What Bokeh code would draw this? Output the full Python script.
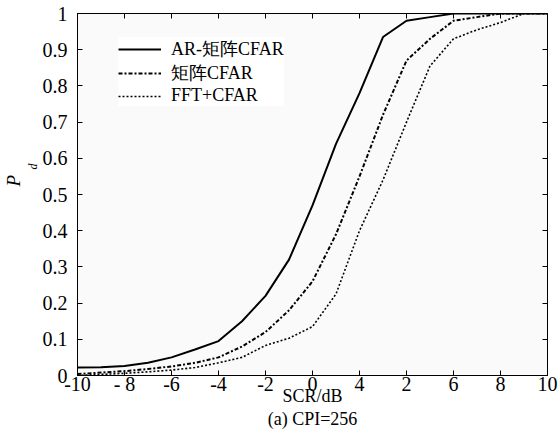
from bokeh.plotting import figure
from bokeh.models import LinearAxis, FixedTicker, Range1d, Legend, LegendItem, Title
from bokeh.embed import file_html
from bokeh.resources import INLINE

# ---- data ----
scr = [-10, -9, -8, -7, -6, -5, -4, -3, -2, -1, 0, 1, 2, 3, 4, 5, 6, 7, 8, 9, 10]
pd_ar = [0.022, 0.023, 0.026, 0.035, 0.05, 0.072, 0.095, 0.15, 0.22, 0.32, 0.47, 0.64, 0.78, 0.935, 0.98, 0.99, 1.0, 1.0, 1.0, 1.0, 1.0]
pd_matrix = [0.004, 0.008, 0.012, 0.018, 0.025, 0.035, 0.05, 0.08, 0.12, 0.18, 0.26, 0.39, 0.55, 0.72, 0.87, 0.93, 0.98, 0.99, 1.0, 1.0, 1.0]
pd_fft = [0.0, 0.003, 0.006, 0.01, 0.015, 0.022, 0.035, 0.05, 0.083, 0.103, 0.135, 0.225, 0.40, 0.54, 0.70, 0.855, 0.93, 0.955, 0.975, 1.0, 1.0]
series_names = ["AR-矩阵CFAR", "矩阵CFAR", "FFT+CFAR"]

x_ticks = [-10, -8, -6, -4, -2, 0, 2, 4, 6, 8, 10]
x_tick_labels = ["-10", "- 8", "-6", "-4", "-2", "0", "4", "2", "6", "8", "10"]
y_ticks = [0, 0.1, 0.2, 0.3, 0.4, 0.5, 0.6, 0.7, 0.8, 0.9, 1.0]
y_tick_labels = ["0", "0.1", "0.2", "0.3", "0.4", "0.5", "0.6", "0.7", "0.8", "0.9", "1"]
x_title = "SCR/dB"
caption = "(a) CPI=256"
y_title_main = "P"
y_title_sub = "d"

SERIF = "Liberation Serif"

p = figure(width=559, height=431, output_backend="svg", toolbar_location=None,
           x_range=Range1d(-10, 10), y_range=Range1d(0, 1),
           min_border_left=70, min_border_right=12, min_border_top=13, min_border_bottom=55)
p.background_fill_color = "#fafafa"
p.border_fill_color = "white"
p.outline_line_color = "black"
p.outline_line_width = 1
p.grid.visible = False

r1 = p.line(scr, pd_ar, line_color="black", line_width=2)
r2 = p.line(scr, pd_matrix, line_color="black", line_width=2, line_dash="4 2 2 2")
r3 = p.line(scr, pd_fft, line_color="black", line_width=1.6, line_dash="2 2")

xa = p.xaxis[0]
ya = p.yaxis[0]
xa.ticker = FixedTicker(ticks=x_ticks)
ya.ticker = FixedTicker(ticks=y_ticks)
xa.major_label_overrides = {t: l for t, l in zip(x_ticks, x_tick_labels)}
ya.major_label_overrides = {t: l for t, l in zip(y_ticks, y_tick_labels)}
for ax in (xa, ya):
    ax.major_tick_in = 5
    ax.major_tick_out = 0
    ax.minor_tick_line_color = None
    ax.axis_line_color = "black"
    ax.major_tick_line_color = "black"
    ax.major_label_text_font = SERIF
    ax.major_label_text_font_size = "20px"
    ax.major_label_text_color = "black"
xa.major_label_standoff = -3
ya.major_label_standoff = 10
xa.axis_label = x_title + "\n" + caption
xa.axis_label_text_font = SERIF
xa.axis_label_text_font_size = "18px"
xa.axis_label_text_font_style = "normal"
xa.axis_label_text_color = "black"
xa.axis_label_text_line_height = 1.15
xa.axis_label_standoff = -12

top = LinearAxis(ticker=FixedTicker(ticks=x_ticks))
right = LinearAxis(ticker=FixedTicker(ticks=y_ticks))
top.major_label_overrides = {t: "" for t in x_ticks}
right.major_label_overrides = {t: "" for t in y_ticks}
for ax in (top, right):
    ax.major_tick_in = 5
    ax.major_tick_out = 0
    ax.minor_tick_line_color = None
    ax.axis_line_color = None
    ax.major_tick_line_color = "black"
    ax.major_label_standoff = 0
p.add_layout(top, "above")
p.add_layout(right, "right")

# y-axis title P_d (main letter + subscript) as side titles
p.add_layout(Title(text=y_title_sub, align="left", offset=206, standoff=0,
                   text_font=SERIF, text_font_style="italic", text_font_size="12px",
                   text_color="black"), "left")
p.add_layout(Title(text=y_title_main, align="left", offset=189, standoff=0,
                   text_font=SERIF, text_font_style="italic", text_font_size="19px",
                   text_color="black"), "left")

legend = Legend(items=[LegendItem(label=series_names[0], renderers=[r1]),
                       LegendItem(label=series_names[1], renderers=[r2]),
                       LegendItem(label=series_names[2], renderers=[r3])],
                location=(41, 269))
legend.background_fill_color = "white"
legend.background_fill_alpha = 1
legend.border_line_color = None
legend.padding = 12
legend.spacing = 0
legend.glyph_width = 43
legend.glyph_height = 20
legend.label_height = 20
legend.label_standoff = 10
legend.label_text_font = SERIF
legend.label_text_font_size = "18px"
legend.label_text_line_height = 0.9
legend.label_text_color = "black"
legend.margin = 0
p.add_layout(legend)

open("out.html", "w").write(file_html(p, INLINE))
